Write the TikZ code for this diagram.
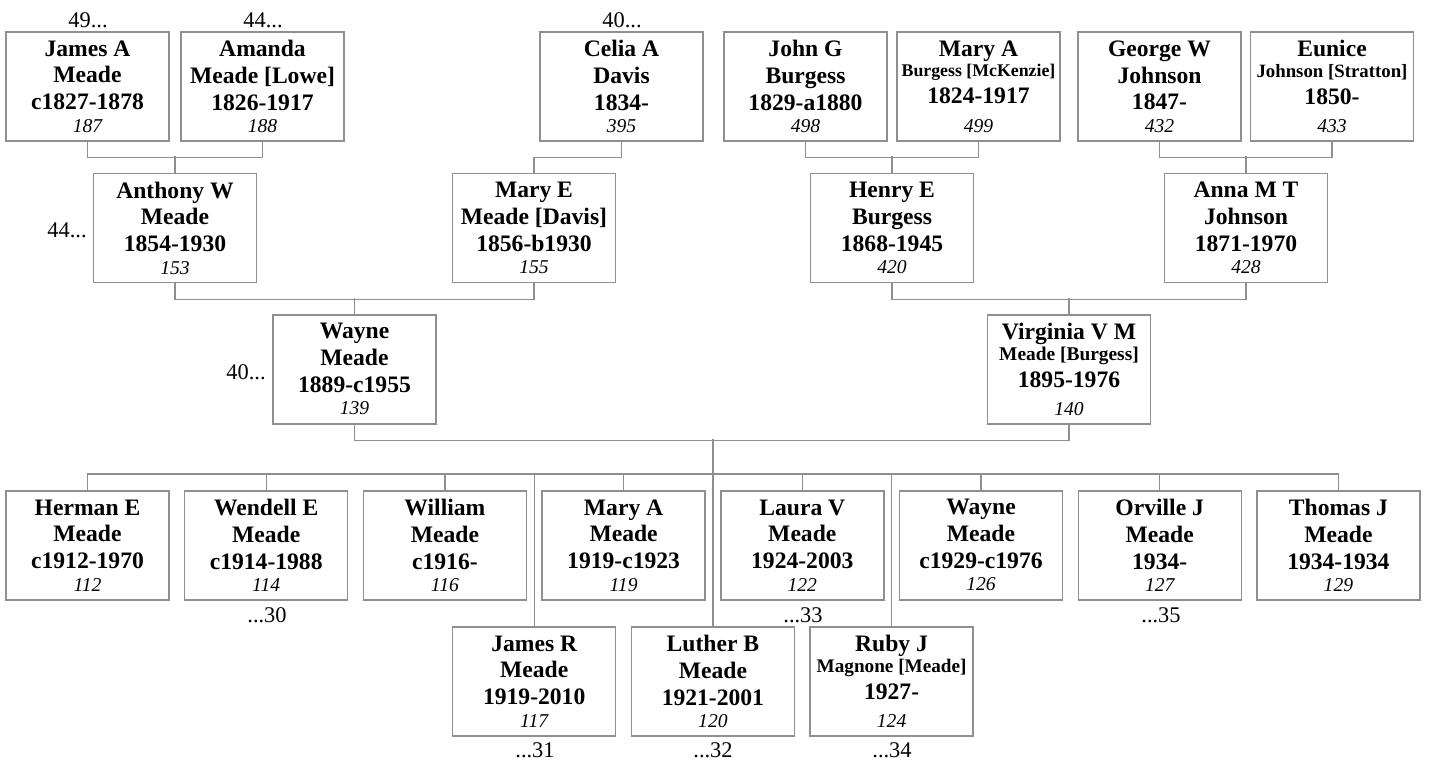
\documentclass[tikz,border=0pt]{standalone}
\usepackage{fontspec}
\setmainfont{Liberation Serif}
\usetikzlibrary{positioning}
\definecolor{boxgray}{HTML}{8F8F8F}
\newcommand{\pers}[4]{#1\\#2\\#3\\[-2.2pt]{\fontsize{9.8}{11}\selectfont\normalfont\itshape #4}}
\newcommand{\perswed}[5]{#1\\[-3pt]{\fontsize{#3}{10}\selectfont #2}\\#4\\[0.8pt]{\fontsize{9.8}{11}\selectfont\normalfont\itshape #5}}

\begin{document}
\begin{tikzpicture}[x=0.5pt,y=-0.5pt,
 pbox/.style={draw=boxgray,line width=0.7pt,minimum width=81.5pt,minimum height=54.5pt,inner sep=0pt,align=center,font=\fontsize{11.8}{13.4}\selectfont\bfseries},
 link/.style={draw=boxgray,line width=0.7pt},
 gennum/.style={inner sep=0pt,font=\fontsize{11.2}{13}\selectfont}]
\useasboundingbox (0,0) rectangle (1431,761);

% great-grandparents
\node[pbox] (jamesA) at (87.5,86.5) {\pers{James A}{Meade}{c1827-1878}{187}};
\node[pbox] (amanda) at (262.5,86.5) {\pers{Amanda}{Meade [Lowe]}{1826-1917}{188}};
\node[pbox] (celia) at (621.5,86.5) {\pers{Celia A}{Davis}{1834-}{395}};
\node[pbox] (johnG) at (805.5,86.5) {\pers{John G}{Burgess}{1829-a1880}{498}};
\node[pbox] (maryAB) at (978.5,86.5) {\perswed{Mary A}{Burgess [McKenzie]}{8.9}{1824-1917}{499}};
\node[pbox] (georgeW) at (1159.5,86.5) {\pers{George W}{Johnson}{1847-}{432}};
\node[pbox] (eunice) at (1332,86.5) {\perswed{Eunice}{Johnson [Stratton]}{9.4}{1850-}{433}};

% grandparents
\node[pbox] (anthony) at (175,228) {\pers{Anthony W}{Meade}{1854-1930}{153}};
\node[pbox] (maryE) at (534,228) {\pers{Mary E}{Meade [Davis]}{1856-b1930}{155}};
\node[pbox] (henry) at (892,228) {\pers{Henry E}{Burgess}{1868-1945}{420}};
\node[pbox] (anna) at (1246,228) {\pers{Anna M T}{Johnson}{1871-1970}{428}};

% parents
\node[pbox] (wayne) at (354.5,369.3) {\pers{Wayne}{Meade}{1889-c1955}{139}};
\node[pbox] (virginia) at (1069,369.3) {\perswed{Virginia V M}{Meade [Burgess]}{9.7}{1895-1976}{140}};

% children
\node[pbox] (herman) at (87.5,545.3) {\pers{Herman E}{Meade}{c1912-1970}{112}};
\node[pbox] (wendell) at (266.2,545.3) {\pers{Wendell E}{Meade}{c1914-1988}{114}};
\node[pbox] (william) at (444.9,545.3) {\pers{William}{Meade}{c1916-}{116}};
\node[pbox] (maryAM) at (623.6,545.3) {\pers{Mary A}{Meade}{1919-c1923}{119}};
\node[pbox] (laura) at (802.3,545.3) {\pers{Laura V}{Meade}{1924-2003}{122}};
\node[pbox] (wayneJr) at (981,545.3) {\pers{Wayne}{Meade}{c1929-c1976}{126}};
\node[pbox] (orville) at (1159.7,545.3) {\pers{Orville J}{Meade}{1934-}{127}};
\node[pbox] (thomas) at (1338.4,545.3) {\pers{Thomas J}{Meade}{1934-1934}{129}};
\node[pbox] (jamesR) at (534.2,681.3) {\pers{James R}{Meade}{1919-2010}{117}};
\node[pbox] (luther) at (712.9,681.3) {\pers{Luther B}{Meade}{1921-2001}{120}};
\node[pbox] (ruby) at (891.6,681.3) {\perswed{Ruby J}{Magnone [Meade]}{9.6}{1927-}{124}};

% generation numbers
\node[gennum] (jamesAgen) at (88,20) {49...};
\node[gennum] (amandagen) at (263,20) {44...};
\node[gennum] (celiagen) at (622,20) {40...};
\node[gennum] (anthonygen) at (67,230) {44...};
\node[gennum] (waynegen) at (246,372) {40...};
\node[gennum] (wendellgen) at (267,615) {...30};
\node[gennum] (lauragen) at (803,615) {...33};
\node[gennum] (orvillegen) at (1161,615) {...35};
\node[gennum] (jamesRgen) at (535,750) {...31};
\node[gennum] (luthergen) at (713,750) {...32};
\node[gennum] (rubygen) at (892,750) {...34};

% couples
\draw[link] (jamesA.south) -- ++(0,16) -| (amanda.south);
\draw[link] (anthony.north) -- ++(0,-16.5);
\draw[link] (celia.south) -- ++(0,16) -| (maryE.north);
\draw[link] (johnG.south) -- ++(0,16) -| (maryAB.south);
\draw[link] (henry.north) -- ++(0,-16.5);
\draw[link] (georgeW.south) -- ++(0,16) -| (eunice.south);
\draw[link] (anna.north) -- ++(0,-16.5);
\draw[link] (anthony.south) -- ++(0,16) -| (maryE.south);
\draw[link] (wayne.north) -- ++(0,-16);
\draw[link] (henry.south) -- ++(0,16) -| (anna.south);
\draw[link] (virginia.north) -- ++(0,-16);
\draw[link] (wayne.south) -- ++(0,16) -| (virginia.south);
\coordinate (kidsbar) at (0,474.7);
\draw[link] (luther.north) -- ++(0,-186.7);
\draw[link] (herman.north) -- ++(0,-16) -| (thomas.north);
\draw[link] (wendell.north) -- (wendell.north |- kidsbar);
\draw[link] (william.north) -- (william.north |- kidsbar);
\draw[link] (maryAM.north) -- (maryAM.north |- kidsbar);
\draw[link] (laura.north) -- (laura.north |- kidsbar);
\draw[link] (wayneJr.north) -- (wayneJr.north |- kidsbar);
\draw[link] (orville.north) -- (orville.north |- kidsbar);
\draw[link] (jamesR.north) -- (jamesR.north |- kidsbar);
\draw[link] (ruby.north) -- (ruby.north |- kidsbar);
\end{tikzpicture}
\end{document}
